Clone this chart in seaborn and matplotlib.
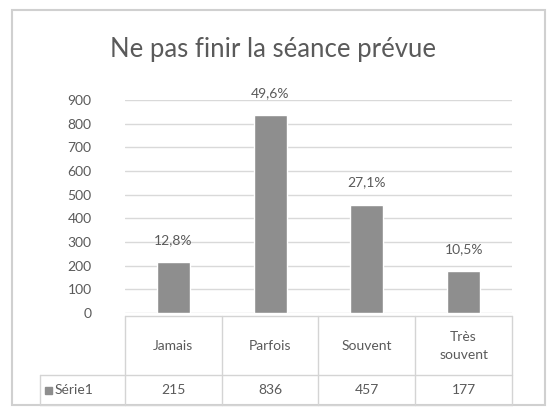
import matplotlib
matplotlib.use("Agg")
import matplotlib.pyplot as plt
import seaborn as sns
import pandas as pd
from matplotlib.lines import Line2D
from matplotlib.patches import Rectangle

# ---- DONNÉES ----
categories = ["Jamais", "Parfois", "Souvent", "Très\nsouvent"]
valeurs = [215, 836, 457, 177]
pourcentages = ["12,8%", "49,6%", "27,1%", "10,5%"]
serie = "Série1"
titre = "Ne pas finir la séance prévue"

df = pd.DataFrame({"categorie": categories, "valeur": valeurs})

sns.set_theme(style="white")
plt.rcParams["font.family"] = ["Lato", "DejaVu Sans"]
txt = "#5a5a5a"
W, H = 556, 415

fig = plt.figure(figsize=(W / 100, H / 100), dpi=100)
ax = fig.add_axes([125 / W, 1 - 313 / H, (512 - 125) / W, (313 - 100) / H])

sns.barplot(data=df, x="categorie", y="valeur", color="#8e8e8e",
            width=0.34, saturation=1, ax=ax)
ax.set_ylim(0, 900)
ax.set_xlim(-0.5, 3.5)
ax.set_yticks(range(0, 1000, 100))
ax.tick_params(axis="y", labelsize=10, labelcolor=txt, length=0, pad=24)
ax.set_xticks([])
ax.set_xlabel("")
ax.set_ylabel("")
ax.yaxis.grid(True, color="#d9d9d9", linewidth=1)
ax.set_axisbelow(True)
for s in ax.spines.values():
    s.set_visible(False)

# étiquettes de pourcentage
for i, (v, p) in enumerate(zip(valeurs, pourcentages)):
    ax.annotate(p, (i, v), xytext=(0, 16), textcoords="offset points",
                ha="center", va="center", fontsize=10, color=txt)

# titre
fig.text(273 / W, 1 - 50 / H, titre, ha="center", va="center",
         fontsize=18.5, color=txt)

# ---- TABLEAU DE DONNÉES ----
def fy(y):
    return 1 - y / H

def ligne(x0, x1, y0, y1, c="#d4d4d4"):
    fig.add_artist(Line2D([x0 / W, x1 / W], [fy(y0), fy(y1)], color=c, lw=1))

col_edges = [125, 222, 318, 415, 512]
for x in col_edges:
    ligne(x, x, 316, 405)
ligne(40, 40, 375, 405)
ligne(125, 512, 316, 316)
ligne(40, 512, 375, 375)
ligne(40, 512, 405, 405)

trans = ax.get_xaxis_transform()
for i, c in enumerate(categories):
    ax.text(i, -0.155, c, transform=trans, ha="center", va="center",
            fontsize=10, color=txt, linespacing=1.6)
    ax.text(i, -0.36, str(valeurs[i]), transform=trans, ha="center",
            va="center", fontsize=10, color=txt)

fig.add_artist(Rectangle((45 / W, fy(394)), 7 / W, 7 / H, color="#8e8e8e"))
fig.text(55 / W, fy(390), serie, ha="left", va="center", fontsize=10, color=txt)

# cadre extérieur
fig.add_artist(Rectangle((12 / W, fy(405)), (545 - 12) / W, (405 - 10) / H,
                         fill=False, edgecolor="#d0d0d0", lw=1.5))

fig.savefig("out.png", dpi=100)
